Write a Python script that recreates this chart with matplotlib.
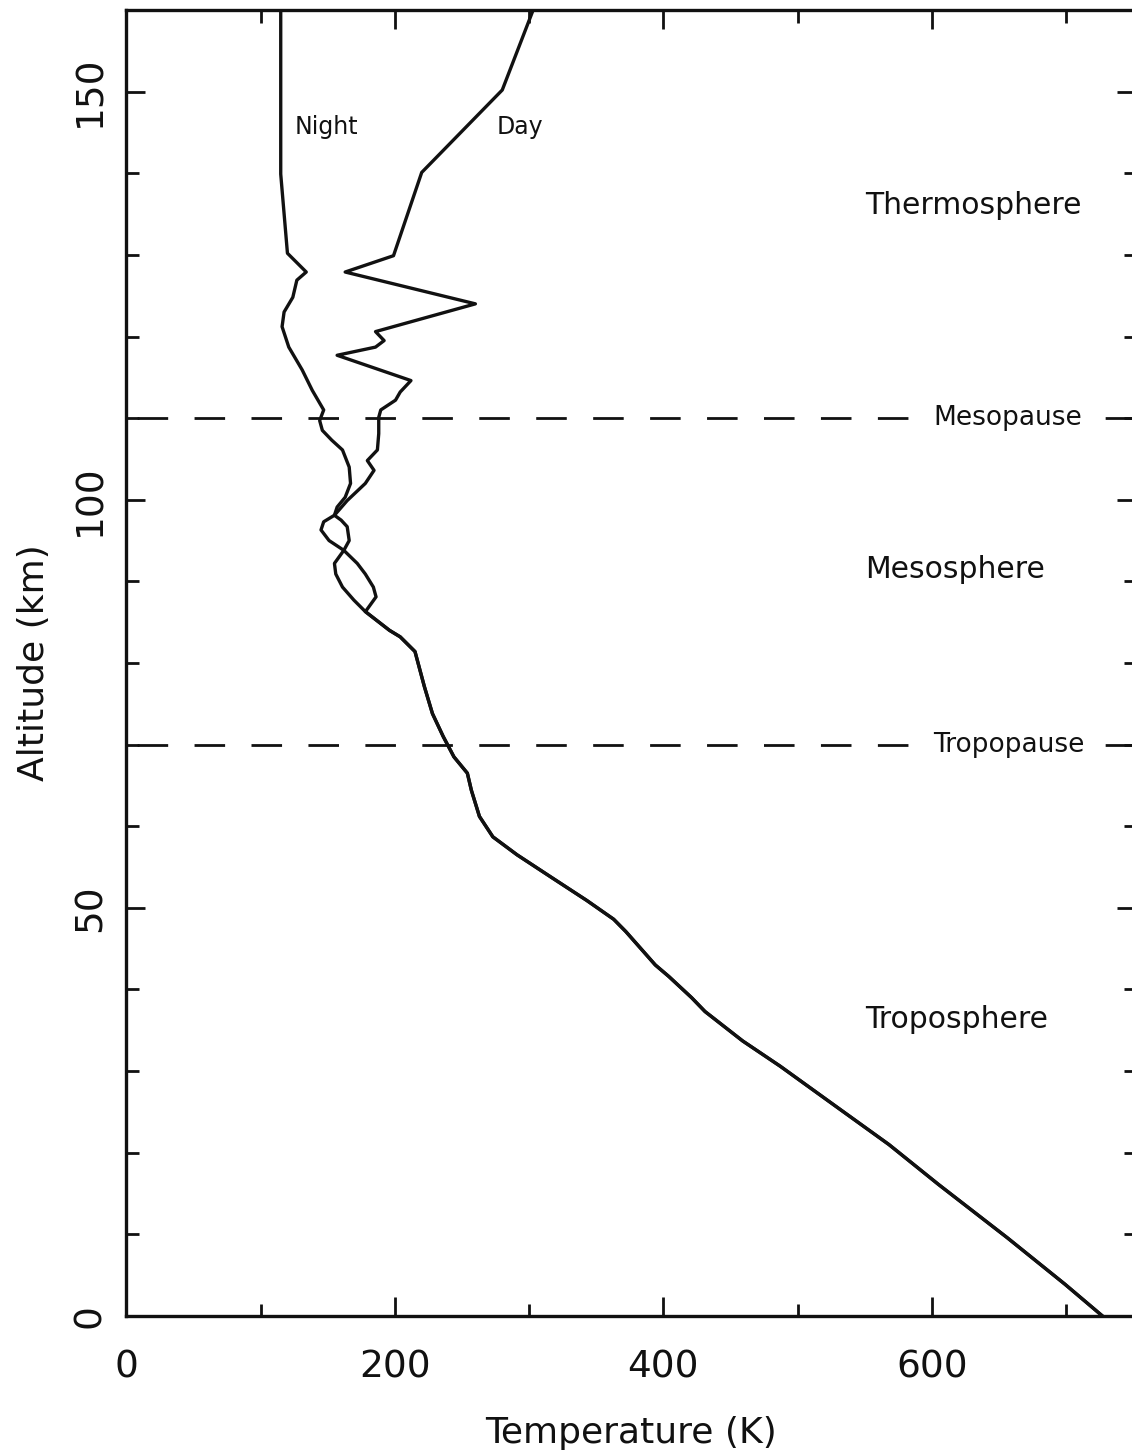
import numpy as np
import matplotlib.pyplot as plt
from matplotlib.ticker import MultipleLocator

plt.rcParams['font.family'] = ['DejaVu Sans']
plt.rcParams['lines.scale_dashes'] = False

# common profile from the surface up to ~86 km (day and night coincide)
alt_low = [0, 3.9, 9.6, 16.1, 21.0, 25.5, 30.6, 33.7, 37.3, 39.0, 41.6, 43.0,
           47.1, 48.6, 50.9, 53.8, 56.5, 58.7, 61.2, 64.4, 66.5, 68.5, 71.0,
           73.8, 77.1, 81.4, 83.2, 84.0, 86.3]
temp_low = [727, 699, 656, 605, 568, 530, 487, 459, 431, 421, 404, 394,
            372, 363, 343, 316, 291, 273, 263, 257, 254, 244, 236,
            228, 222, 215, 204, 196, 178]

# night-side profile above the split
alt_night = [86.5, 88.1, 89.3, 90.9, 92.2, 93.8, 95.0, 96.3, 97.3, 98.1, 99.1,
             100.3, 102.0, 104.0, 106.1, 107.3, 108.5, 109.7, 111.0, 113.4,
             115.9, 118.7, 121.2, 123.0, 124.8, 126.9, 127.9, 130.2, 139.9, 160]
temp_night = [179, 186, 184, 178, 172, 162, 151, 145, 147, 155, 157,
              163, 167, 166, 161, 153, 146, 144, 147, 138.5,
              131, 121, 116, 117.5, 124, 127, 134, 120, 115, 115]

# day-side profile above the split
alt_day = [87.7, 89.3, 90.9, 92.2, 93.8, 95.0, 96.7, 97.5, 98.1, 99.9, 102.0,
           103.6, 104.8, 106.1, 108.1, 110.1, 111.0, 112.2, 113.2, 114.6,
           117.7, 118.7, 119.5, 120.6, 124.0, 127.9, 129.9, 140.1, 150.2, 160]
temp_day = [169.5, 161, 156, 155, 162, 166, 164.5, 160, 155, 164.5, 178,
            184.5, 179.5, 187, 188, 188, 189.5, 200.5, 204, 212,
            157, 185.6, 192, 185.6, 260, 163, 199, 220, 280, 303]

pause_alt = [110, 70]
pause_names = ['Mesopause', 'Tropopause']
layer_alt = [136.1, 91.4, 36.3]
layer_names = ['Thermosphere', 'Mesosphere', 'Troposphere']

night_z = np.array(alt_low + alt_night)
night_t = np.array(temp_low + temp_night)
day_z = np.array(alt_low + alt_day)
day_t = np.array(temp_low + temp_day)

ink = '#111111'

fig = plt.figure(figsize=(11.32, 14.52), dpi=100)
ax = fig.add_axes([0.1116, 0.0937, 0.8919, 0.8994])

ax.plot(night_t, night_z, color=ink, lw=2.4)
ax.plot(day_t, day_z, color=ink, lw=2.4)

for z, name in zip(pause_alt, pause_names):
    ax.axhline(z, color=ink, lw=2.0, ls=(33, (22, 19)), zorder=1)
    ax.text(601, z, name, fontsize=19, ha='left', va='center', color=ink,
            bbox=dict(facecolor='white', edgecolor='none', pad=0), zorder=3)

for z, name in zip(layer_alt, layer_names):
    ax.text(550, z, name, fontsize=21.5, ha='left', va='center', color=ink)

ax.text(125, 145.7, 'Night', fontsize=17, ha='left', va='center', color=ink)
ax.text(276, 145.7, 'Day', fontsize=17, ha='left', va='center', color=ink)

ax.set_xlim(0, 752)
ax.set_ylim(0, 160)
ax.xaxis.set_major_locator(MultipleLocator(200))
ax.xaxis.set_minor_locator(MultipleLocator(100))
ax.yaxis.set_major_locator(MultipleLocator(50))
ax.yaxis.set_minor_locator(MultipleLocator(10))

ax.tick_params(which='both', direction='in', top=True, right=True,
               width=2, color=ink, labelsize=27, labelcolor=ink)
ax.tick_params(which='major', length=14)
ax.tick_params(which='minor', length=9)
ax.tick_params(axis='x', pad=24)
ax.tick_params(axis='y', pad=13, labelrotation=90)
for lab in ax.get_yticklabels():
    lab.set_va('center')

for s in ax.spines.values():
    s.set_linewidth(2.4)
    s.set_color(ink)

ax.set_xlabel('Temperature (K)', fontsize=26, labelpad=22, color=ink)
ax.set_ylabel('Altitude (km)', fontsize=26, labelpad=15, color=ink)

fig.savefig('out.png', dpi=100)
